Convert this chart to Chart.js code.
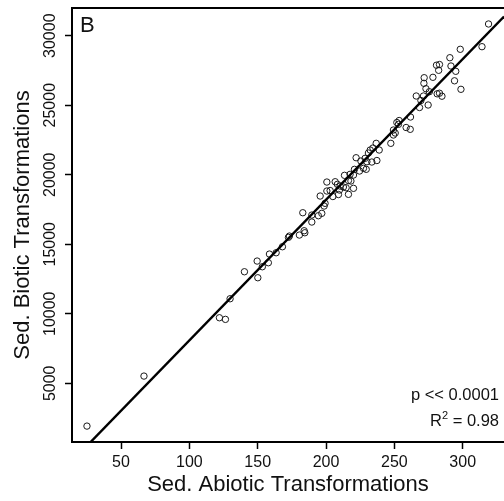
<!DOCTYPE html>
<html>
<head>
<meta charset="utf-8">
<script src="https://cdn.jsdelivr.net/npm/chart.js@4.4.1/dist/chart.umd.min.js"></script>
<style>
  html, body { margin: 0; padding: 0; background: #fff; overflow: hidden; width: 504px; height: 501px; }
  #wrap { width: 520px; height: 501px; }
</style>
</head>
<body>
<div id="wrap"><canvas id="scatterChart" width="520" height="501"></canvas></div>
<script>
// ===== Data =====
const abiotic = [25.1, 66.8, 122.0, 126.4, 129.8, 140.3, 150.1, 149.6, 153.4, 157.8,
    158.6, 163.5, 168.1, 172.5, 173.2, 180.5, 184.0, 184.5, 183.0, 189.6,
    189.6, 194.4, 196.9, 198.6, 199.3, 195.7, 200.6, 200.6, 203.0, 205.0,
    206.7, 208.3, 209.1, 210.3, 209.8, 213.5, 212.7, 216.4, 216.4, 214.7,
    217.6, 218.2, 220.1, 220.8, 220.1, 224.5, 227.4, 229.4, 222.0, 225.5,
    228.6, 229.9, 233.5, 237.2, 231.0, 234.3, 236.7, 238.9, 232.3, 247.4,
    249.3, 250.6, 249.3, 251.8, 253.5, 253.0, 258.6, 261.6, 261.8, 266.0,
    268.4, 269.4, 271.3, 274.7, 271.8, 271.6, 273.1, 275.6, 278.2, 281.3,
    283.0, 284.8, 280.8, 283.0, 282.4, 291.4, 294.9, 294.0, 298.7, 290.6,
    298.2, 314.1, 318.9];
const biotic = [1922, 5519, 9713, 9598, 11080, 13022, 12591, 13792, 13382, 13670,
    14295, 14389, 14821, 15497, 15590, 15662, 15972, 15828, 17267, 16598,
    17101, 17051, 17223, 17749, 17943, 18468, 19475, 18828, 18864, 18432,
    19497, 19310, 18576, 19187, 18900, 19957, 19115, 18590, 19583, 19065,
    20029, 19547, 19022, 20389, 19979, 20267, 20461, 20389, 21223, 20986,
    21180, 20936, 20914, 21022, 21561, 21921, 22259, 21777, 21777, 22259,
    22856, 23000, 23216, 23756, 23899, 23626, 23396, 23266, 24151, 25662,
    24835, 25338, 25662, 25015, 26979, 26576, 26187, 25971, 27007, 25820,
    25863, 25648, 27878, 27928, 27511, 27820, 27439, 26756, 26144, 28417,
    29022, 29209, 30842];
const xTicks = [50, 100, 150, 200, 250, 300];
const yTicks = [5000, 10000, 15000, 20000, 25000, 30000];
const fitSlope = 101.2;
const fitIntercept = -2035;

const xMin = 14.15, xMax = 330.2;
const yMin = 778, yMax = 31992;

const FONT = "'Liberation Sans', Arial, sans-serif";

const points = abiotic.map((x, i) => ({ x: x, y: biotic[i] }));
const fitLine = [xMin, xMax].map(x => ({ x: x, y: fitIntercept + fitSlope * x }));

// ===== Frame (right side is cut off in the reference), rotated y labels, annotations =====
const decorPlugin = {
    id: "decor",
    afterDraw(chart) {
        const ctx = chart.ctx;
        const area = chart.chartArea;
        const yScale = chart.scales.y;

        ctx.save();
        ctx.strokeStyle = "#000";
        ctx.lineWidth = 2;
        ctx.beginPath();
        ctx.moveTo(area.right + 10, area.top);
        ctx.lineTo(area.left, area.top);
        ctx.lineTo(area.left, area.bottom);
        ctx.lineTo(area.right + 10, area.bottom);
        ctx.stroke();

        ctx.fillStyle = "#111";
        ctx.font = "16px " + FONT;
        ctx.textAlign = "center";
        ctx.textBaseline = "alphabetic";
        yTicks.forEach(v => {
            const py = yScale.getPixelForValue(v);
            ctx.save();
            ctx.translate(55, py);
            ctx.rotate(-Math.PI / 2);
            ctx.fillText(String(v), 0, 0);
            ctx.restore();
        });

        // panel letter
        ctx.textAlign = "left";
        ctx.font = "22px " + FONT;
        ctx.fillText("B", 80, 32);

        // stats
        const rightX = 499;
        ctx.font = "16.5px " + FONT;
        ctx.textAlign = "right";
        ctx.fillText("p << 0.0001", rightX, 400);

        ctx.textAlign = "left";
        const tail = " = 0.98";
        const wTail = ctx.measureText(tail).width;
        const wR = ctx.measureText("R").width;
        ctx.font = "11px " + FONT;
        const wSup = ctx.measureText("2").width;
        const startX = rightX - wTail - wSup - wR;
        ctx.font = "16.5px " + FONT;
        ctx.fillText("R", startX, 426);
        ctx.fillText(tail, startX + wR + wSup, 426);
        ctx.font = "11px " + FONT;
        ctx.fillText("2", startX + wR, 419);
        ctx.restore();
    }
};

const scatterChart = new Chart(document.getElementById("scatterChart").getContext("2d"), {
    type: "scatter",
    data: {
        datasets: [{
            label: "Transformations",
            data: points,
            pointStyle: "circle",
            pointRadius: 3.2,
            pointBorderWidth: 1,
            borderColor: "#1a1a1a",
            backgroundColor: "rgba(0,0,0,0)",
            order: 2
        }, {
            label: "Fit",
            type: "line",
            data: fitLine,
            borderColor: "#000",
            borderWidth: 2.4,
            pointRadius: 0,
            fill: false,
            clip: 0,
            order: 1
        }]
    },
    options: {
        responsive: false,
        animation: false,
        events: [],
        layout: { padding: { top: 8, right: 16, bottom: 0, left: 0 } },
        plugins: {
            legend: { display: false },
            tooltip: { enabled: false }
        },
        scales: {
            x: {
                type: "linear",
                min: xMin,
                max: xMax,
                afterBuildTicks: s => { s.ticks = xTicks.map(v => ({ value: v })); },
                afterFit: s => { s.height = 59; },
                border: { display: false },
                grid: { display: true, drawOnChartArea: false, drawTicks: true, tickLength: 7, tickWidth: 1.5, tickColor: "#000" },
                ticks: { color: "#111", font: { family: FONT, size: 16 }, padding: 4, maxRotation: 0, autoSkip: false },
                title: { display: true, text: "Sed. Abiotic Transformations", color: "#111", font: { family: FONT, size: 22 }, padding: { top: 0, bottom: 3 } }
            },
            y: {
                type: "linear",
                min: yMin,
                max: yMax,
                afterBuildTicks: s => { s.ticks = yTicks.map(v => ({ value: v })); },
                afterFit: s => { s.width = 72; },
                border: { display: false },
                grid: { display: true, drawOnChartArea: false, drawTicks: true, tickLength: 7, tickWidth: 1.5, tickColor: "#000" },
                ticks: { display: false },
                title: { display: true, text: "Sed. Biotic Transformations", color: "#111", font: { family: FONT, size: 22 }, padding: { top: 10, bottom: 0 } }
            }
        }
    },
    plugins: [decorPlugin]
});
</script>
</body>
</html>
